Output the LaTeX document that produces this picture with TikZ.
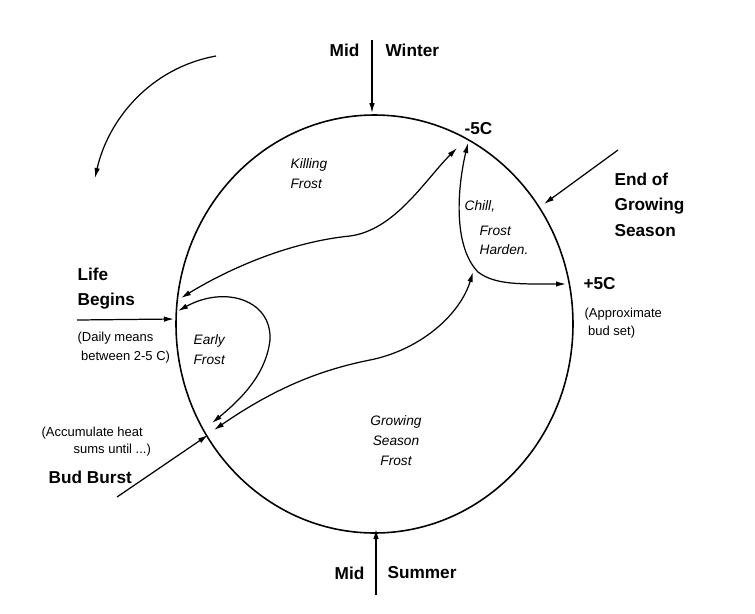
\documentclass[tikz,border=0pt]{standalone}
\usepackage{fontspec}
\setmainfont{Liberation Sans}
\usetikzlibrary{arrows.meta}

\tikzset{
  season/.style={font=\fontsize{9.8}{14.7}\selectfont\bfseries,inner sep=0pt},
  frostlbl/.style={font=\fontsize{7.8}{11.3}\selectfont\itshape,inner sep=0pt},
  remark/.style={font=\fontsize{7.4}{11.3}\selectfont,inner sep=0pt},
}

\begin{document}
\begin{tikzpicture}[x=0.02cm,y=-0.02cm,line width=0.7pt,>={Latex[length=2mm,width=1.1mm]}]
  \useasboundingbox (0,0) rectangle (755,613);
  % ciclo anual
  \draw[line width=0.9pt] (374.5,324) ellipse [x radius=198.5,y radius=209];
  % puntos del ciclo
  \coordinate (W) at (372,113);
  \coordinate (S) at (376,529);
  \coordinate (L) at (174,319);
  \coordinate (B) at (208,435);
  \coordinate (E) at (544,204);
  % extremos exteriores
  \coordinate (wS) at (372,40);
  \coordinate (sS) at (376,595);
  \coordinate (lS) at (77,320);
  \coordinate (bS) at (117,497);
  \coordinate (eS) at (618,150);
  \draw[->] (wS) -- (W);
  \draw[->] (sS) -- (S);
  \draw[->] (lS) -- (L);
  \draw[->] (bS) -- (B);
  \draw[->] (eS) -- (E);
  % sentido de giro
  \coordinate (a1) at (216,56);
  \coordinate (a2) at (95,178);
  \draw[->] (a1) .. controls (150,68) and (108,120) .. (a2);
  % curvas de helada
  \coordinate (kA) at (181,298);
  \coordinate (kB) at (457,148);
  \coordinate (cA) at (468,143);
  \coordinate (cB) at (566,284);
  \coordinate (gA) at (214,430);
  \coordinate (gB) at (473,272);
  \coordinate (fA) at (178,311);
  \coordinate (fB) at (212,423);
  \draw[<->] (kA) .. controls (230,268) and (290,242) .. (350,236)
                  .. controls (395,230) and (425,180) .. (kB);
  \draw[<->] (cA) .. controls (458,185) and (452,245) .. (478,272)
                  .. controls (495,285) and (520,284) .. (cB);
  \draw[<->] (gA) .. controls (275,388) and (320,370) .. (370,360)
                  .. controls (420,350) and (460,315) .. (gB);
  \draw[<->] (fA) .. controls (225,285) and (272,300) .. (270,340)
                  .. controls (266,375) and (240,400) .. (fB);
  % rotulos
  \node[season,anchor=east] (midw) at (360,50) {Mid};
  \node[season,anchor=west] (winter) at (385,50) {Winter};
  \node[season,anchor=east] (mids) at (365,573) {Mid};
  \node[season,anchor=west] (summer) at (387,573) {Summer};
  \node[season,anchor=west] (m5) at (464,129) {-5C};
  \node[season,anchor=west] (p5) at (583,284) {+5C};
  \node[season,anchor=north west,align=left] (egs) at (614,172) {End of\\Growing\\Season};
  \node[season,anchor=north west,align=left] (life) at (77,267) {Life\\Begins};
  \node[season,anchor=west] (bud) at (48,477) {Bud Burst};
  \node[frostlbl,anchor=north west,align=left] (kill) at (290,158) {Killing\\Frost};
  \node[frostlbl,anchor=north west] (chill) at (464,200) {Chill,};
  \node[frostlbl,anchor=north west,align=left] (hard) at (479,225) {Frost\\Harden.};
  \node[frostlbl,anchor=north west,align=left] (early) at (193,334) {Early\\Frost};
  \node[frostlbl,anchor=north,align=center] (grow) at (396,415) {Growing\\Season\\Frost};
  \node[remark,anchor=north west,align=left] (daily) at (77,331) {(Daily means\\\hspace{2pt}between 2-5 C)};
  \node[remark,anchor=north west,align=left] (appr) at (584,307) {(Approximate\\[-1pt]\hspace{2pt}bud set)};
  \node[remark,anchor=west] (acc1) at (41,433) {(Accumulate heat};
  \node[remark,anchor=west] (acc2) at (73,450) {sums until ...)};
\end{tikzpicture}
\end{document}
